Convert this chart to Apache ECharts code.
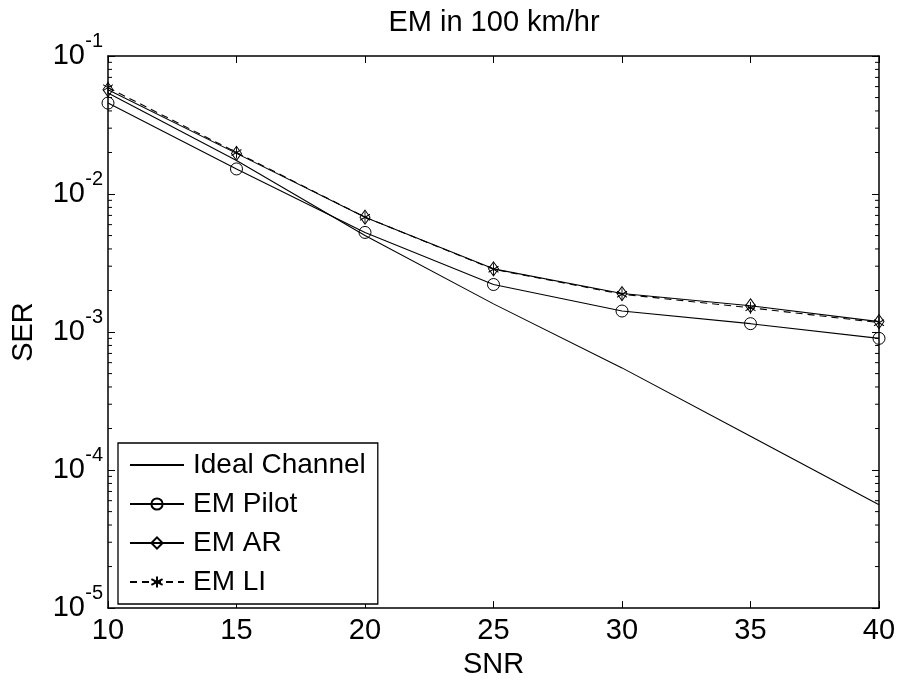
<!DOCTYPE html>
<html>
<head>
<meta charset="utf-8">
<title>EM in 100 km/hr</title>
<script src="https://cdn.jsdelivr.net/npm/echarts@6/dist/echarts.min.js"></script>
<style>
  html, body { margin: 0; padding: 0; background: #fff; }
  #chart { width: 903px; height: 684px; }
</style>
</head>
<body>
<div id="chart"></div>
<script>
// SNR points (dB)
const snr = [10, 15, 20, 25, 30, 35, 40];

// Symbol error rate per receiver
const idealChannel = [5.4e-2, 1.75e-2, 5.0e-3, 1.6e-3, 5.5e-4, 1.76e-4, 5.6e-5];
const emPilot      = [4.56e-2, 1.52e-2, 5.27e-3, 2.21e-3, 1.42e-3, 1.15e-3, 9.0e-4];
const emAR         = [5.7e-2, 1.97e-2, 6.8e-3, 2.87e-3, 1.9e-3, 1.55e-3, 1.19e-3];
const emLI         = [5.9e-2, 2.0e-2, 6.8e-3, 2.85e-3, 1.88e-3, 1.5e-3, 1.17e-3];

// Axis ranges and ticks
const xTicks = [10, 15, 20, 25, 30, 35, 40];
const yDecades = [-5, -4, -3, -2, -1];

const FONT = '"Liberation Sans", Arial, Helvetica, sans-serif';

// Minor log ticks (2..9 x 10^k) inside each decade
const minorTicks = [];
for (let i = 0; i < yDecades.length - 1; i++) {
  for (let m = 2; m <= 9; m++) {
    minorTicks.push([snr[0], m * Math.pow(10, yDecades[i])]);
  }
}

const pairs = (ys) => snr.map((x, i) => [x, ys[i]]);

const asterisk = 'path://M0,-10L0,10M-8.66,-5L8.66,5M-8.66,5L8.66,-5';

const exponentOf = (v) => String(Math.round(Math.log10(v)));

const xAxisBase = {
  type: 'value',
  min: xTicks[0],
  max: xTicks[xTicks.length - 1],
  interval: 5,
  axisLine: { show: true, lineStyle: { color: '#000', width: 1.5 } },
  axisTick: { show: true, inside: true, length: 7, lineStyle: { color: '#000', width: 1 } },
  splitLine: { show: false }
};

const yAxisBase = {
  type: 'log',
  logBase: 10,
  min: Math.pow(10, yDecades[0]),
  max: Math.pow(10, yDecades[yDecades.length - 1]),
  axisLine: { show: true, lineStyle: { color: '#000', width: 1.5 } },
  axisTick: { show: true, inside: true, length: 7, lineStyle: { color: '#000', width: 1 } },
  splitLine: { show: false },
  minorTick: { show: false }
};

const lineStyle = { color: '#000', width: 1.1 };
const hollow = { color: 'rgba(255,255,255,0)', borderColor: '#000', borderWidth: 1 };

const option = {
  backgroundColor: '#fff',
  animation: false,
  title: {
    text: 'EM in 100 km/hr',
    left: 489,
    textAlign: 'center',
    top: 3,
    textStyle: { fontFamily: FONT, fontSize: 29, fontWeight: 'normal', color: '#000' }
  },
  grid: { left: 108, right: 24, top: 56, bottom: 73, containLabel: false },
  xAxis: [
    Object.assign({}, xAxisBase, {
      position: 'bottom',
      name: 'SNR',
      nameLocation: 'middle',
      nameGap: 38,
      nameTextStyle: { fontFamily: FONT, fontSize: 29, color: '#000' },
      axisLabel: { show: true, margin: 8, fontFamily: FONT, fontSize: 29, color: '#000' }
    }),
    Object.assign({}, xAxisBase, { position: 'top', axisLabel: { show: false } })
  ],
  yAxis: [
    // main left axis: mantissa "10" of each decade label
    Object.assign({}, yAxisBase, {
      position: 'left',
      name: 'SER',
      nameLocation: 'middle',
      nameRotate: 90,
      nameGap: 70,
      nameTextStyle: { fontFamily: FONT, fontSize: 29, color: '#000' },
      axisLabel: {
        show: true,
        margin: 23,
        formatter: () => '10',
        fontFamily: FONT, fontSize: 29, color: '#000',
        verticalAlign: 'middle'
      }
    }),
    Object.assign({}, yAxisBase, { position: 'right', axisLabel: { show: false } }),
    // exponent labels, raised above the mantissa
    Object.assign({}, yAxisBase, {
      position: 'left',
      axisLine: { show: false },
      axisTick: { show: false },
      axisLabel: {
        show: true,
        margin: 5,
        formatter: exponentOf,
        fontFamily: FONT, fontSize: 20, color: '#000',
        lineHeight: 20,
        verticalAlign: 'bottom',
        padding: [0, 0, 5, 0]
      }
    })
  ],
  legend: {
    orient: 'vertical',
    left: 118,
    top: 443,
    data: ['Ideal Channel', 'EM Pilot', 'EM AR', 'EM LI'],
    backgroundColor: '#fff',
    borderColor: '#000',
    borderWidth: 1.3,
    borderRadius: 0,
    padding: [7, 12, 7, 11],
    itemWidth: 54,
    itemHeight: 14,
    itemGap: 9,
    textStyle: { fontFamily: FONT, fontSize: 28, color: '#000', lineHeight: 30, padding: [0, 0, 0, 4] }
  },
  series: [
    {
      name: 'Ideal Channel',
      type: 'line',
      data: pairs(idealChannel),
      symbol: 'none',
      lineStyle: lineStyle,
      itemStyle: { color: 'rgba(0,0,0,0)', borderColor: 'rgba(0,0,0,0)', borderWidth: 0 }
    },
    {
      name: 'EM Pilot',
      type: 'line',
      data: pairs(emPilot),
      symbol: 'circle',
      symbolSize: 12,
      showAllSymbol: true,
      lineStyle: lineStyle,
      itemStyle: hollow
    },
    {
      name: 'EM AR',
      type: 'line',
      data: pairs(emAR),
      symbol: 'diamond',
      symbolSize: [10, 14],
      showAllSymbol: true,
      lineStyle: lineStyle,
      itemStyle: hollow
    },
    {
      name: 'EM LI',
      type: 'line',
      data: pairs(emLI),
      symbol: asterisk,
      symbolSize: [10, 12],
      showAllSymbol: true,
      lineStyle: { color: '#000', width: 1.1, type: [7, 5] },
      itemStyle: { color: 'rgba(0,0,0,0)', borderColor: '#000', borderWidth: 1 }
    },
    {
      // minor log ticks on both vertical sides of the box
      type: 'custom',
      silent: true,
      data: minorTicks,
      renderItem: function (params, api) {
        const y = api.coord([api.value(0), api.value(1)])[1];
        const cs = params.coordSys;
        return {
          type: 'group',
          children: [
            { type: 'line', shape: { x1: cs.x, y1: y, x2: cs.x + 4, y2: y }, style: { stroke: '#000', lineWidth: 1 } },
            { type: 'line', shape: { x1: cs.x + cs.width, y1: y, x2: cs.x + cs.width - 4, y2: y }, style: { stroke: '#000', lineWidth: 1 } }
          ]
        };
      }
    }
  ]
};

const chart = echarts.init(document.getElementById('chart'), null, { renderer: 'canvas' });
chart.setOption(option);
</script>
</body>
</html>
